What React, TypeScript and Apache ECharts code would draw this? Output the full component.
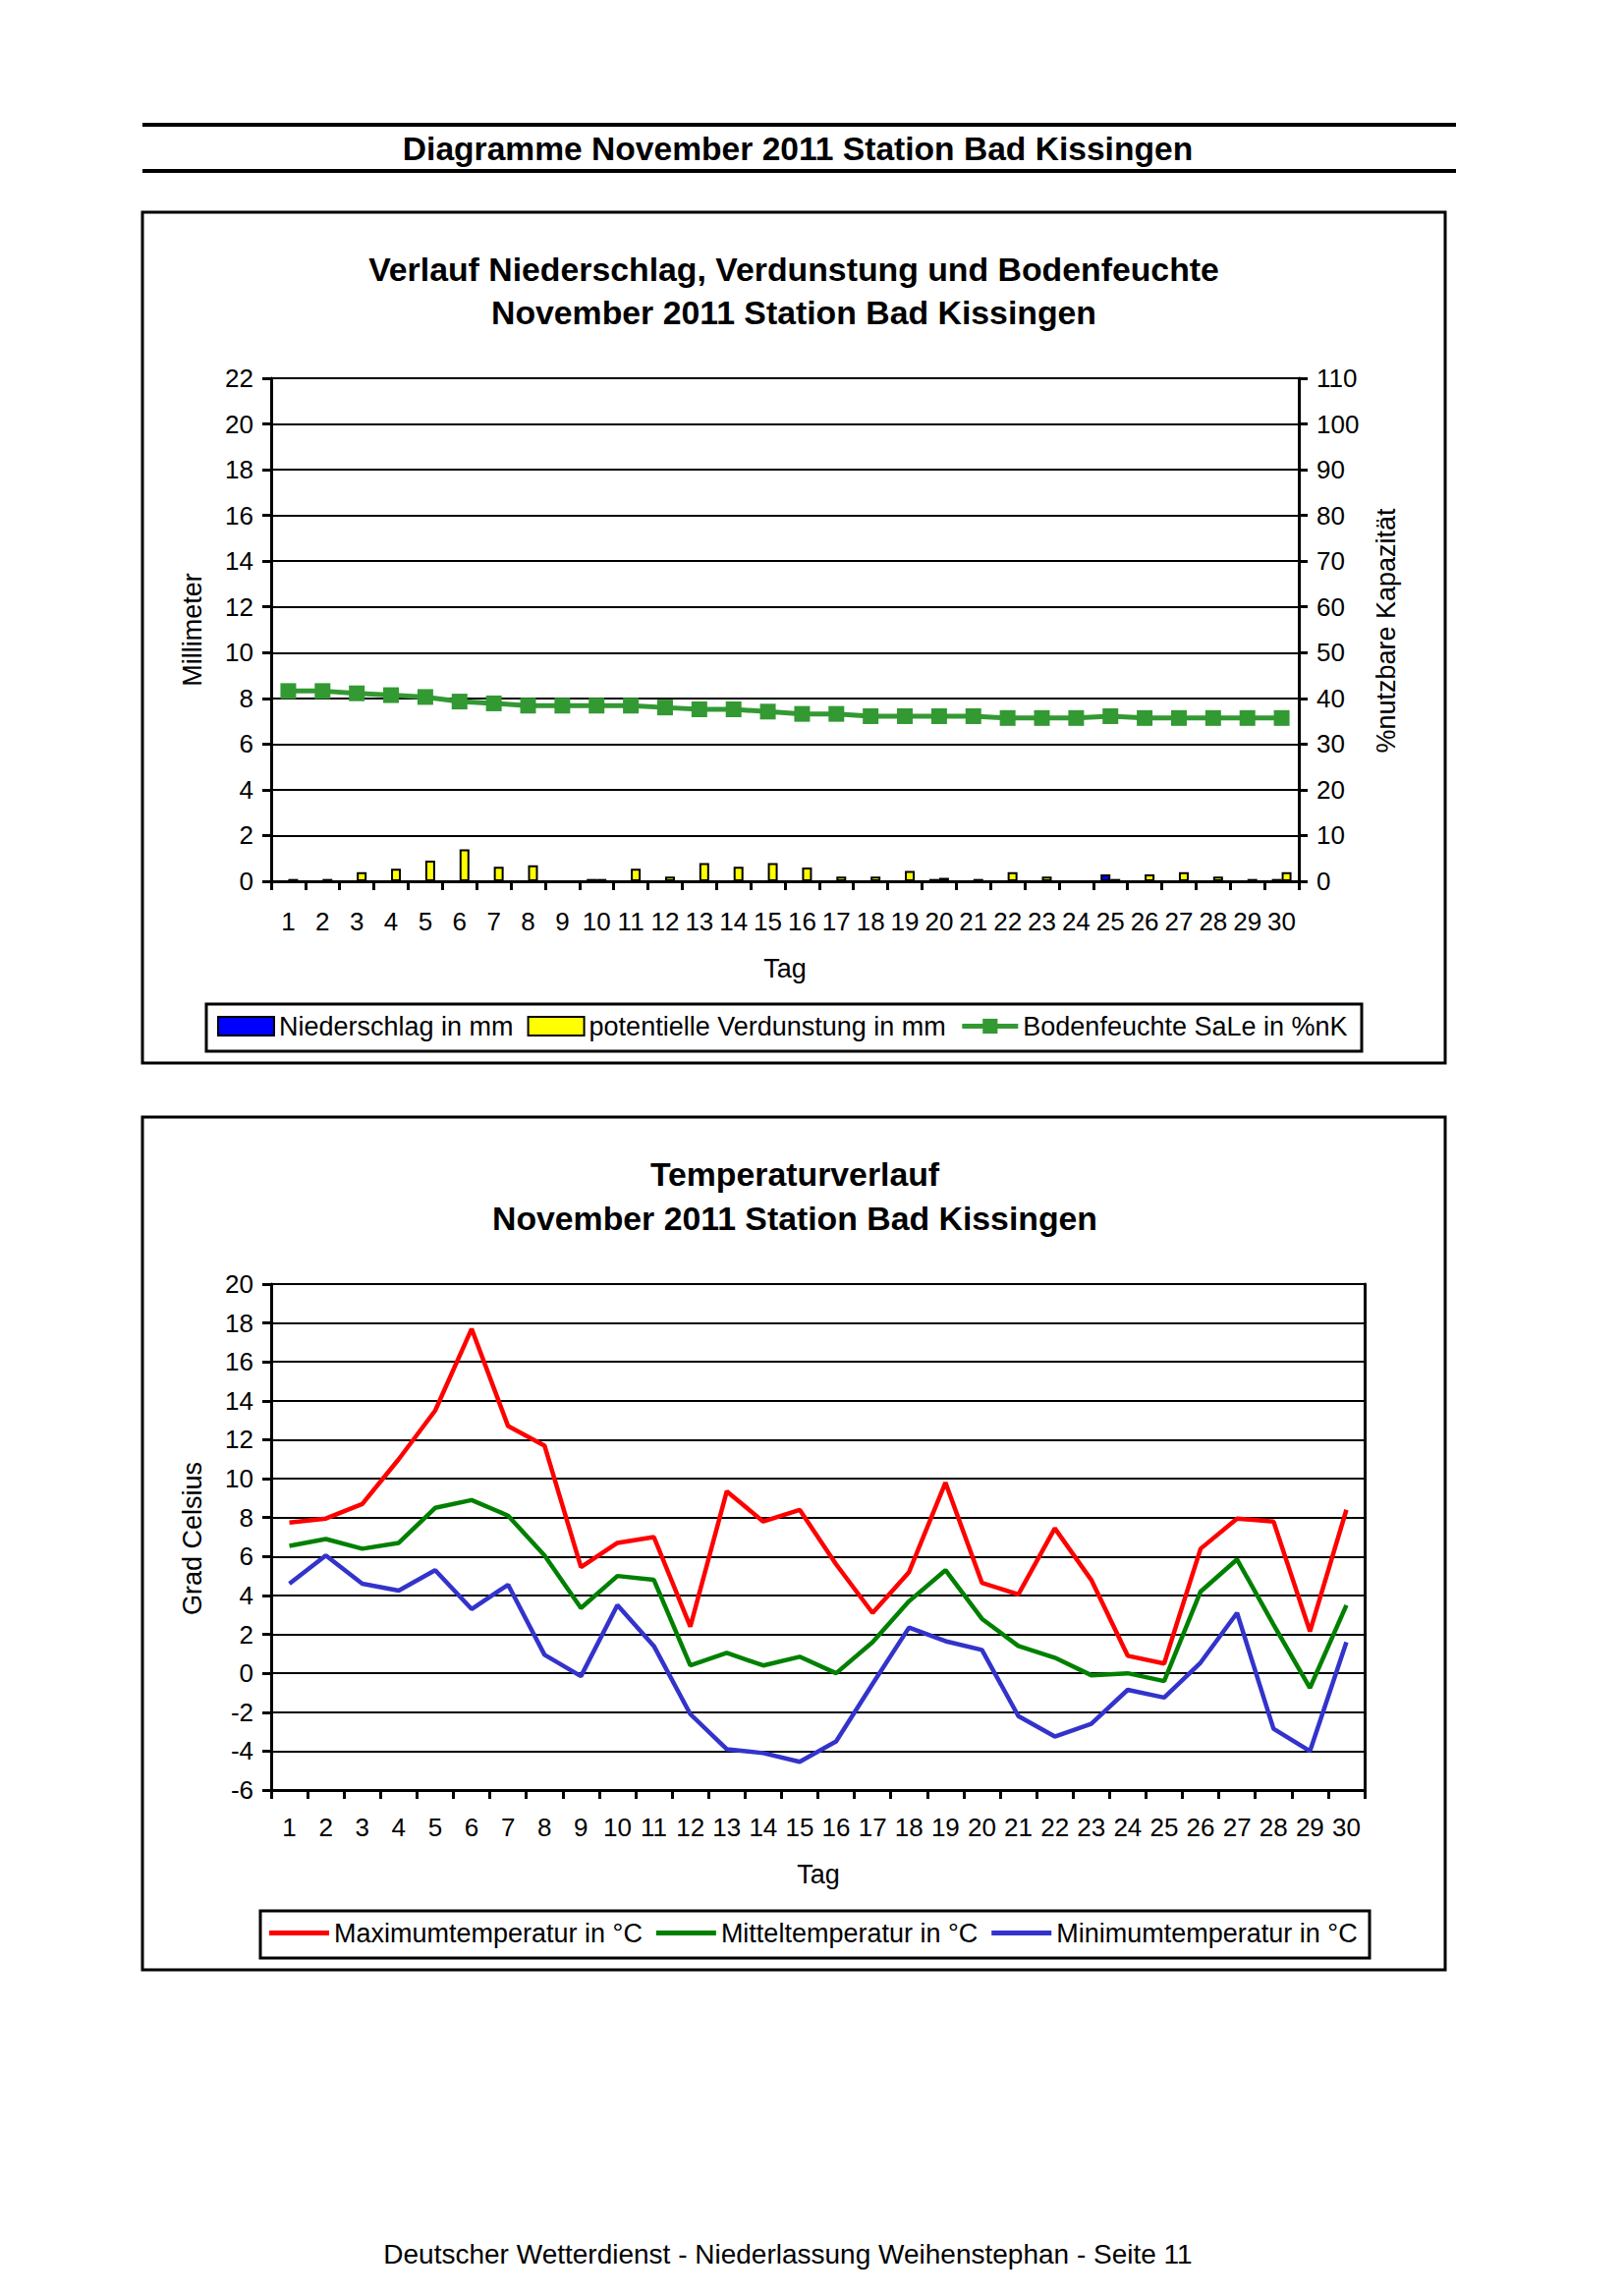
import React, { useEffect, useRef } from "react";
import * as echarts from "echarts";

const days = ["1","2","3","4","5","6","7","8","9","10","11","12","13","14","15","16","17","18","19","20","21","22","23","24","25","26","27","28","29","30"];

// Chart 1: precipitation (mm), potential evaporation (mm), soil moisture (%nK)
const niederschlag = [0,0,0,0,0,0,0,0,0,0.1,0,0,0,0,0,0,0,0,0,0.1,0,0,0,0,0.3,0,0,0,0,0.1];
const verdunstung = [0.1,0.1,0.4,0.55,0.9,1.4,0.63,0.7,0,0.1,0.55,0.2,0.8,0.63,0.8,0.6,0.2,0.2,0.45,0.15,0.1,0.4,0.2,0,0.1,0.3,0.4,0.2,0.1,0.4];
const bodenfeuchte = [41.6,41.6,41.1,40.7,40.3,39.3,38.9,38.4,38.4,38.4,38.4,38.0,37.6,37.6,37.1,36.6,36.6,36.1,36.1,36.1,36.1,35.7,35.7,35.7,36.1,35.7,35.7,35.7,35.7,35.7];

// Chart 2: temperatures (°C)
const tMax = [7.75,7.95,8.7,11.0,13.5,17.7,12.7,11.7,5.45,6.7,7.0,2.4,9.35,7.8,8.4,5.6,3.1,5.2,9.8,4.65,4.05,7.45,4.8,0.9,0.5,6.4,7.95,7.8,2.15,8.4];
const tMittel = [6.55,6.9,6.4,6.7,8.5,8.9,8.1,6.05,3.35,5.0,4.8,0.4,1.05,0.4,0.85,0.0,1.6,3.7,5.3,2.8,1.4,0.8,-0.1,0.0,-0.4,4.2,5.85,2.5,-0.75,3.5];
const tMin = [4.6,6.05,4.6,4.25,5.3,3.3,4.55,0.95,-0.15,3.5,1.4,-2.1,-3.9,-4.1,-4.55,-3.5,-0.55,2.35,1.65,1.2,-2.2,-3.25,-2.6,-0.85,-1.25,0.55,3.1,-2.85,-4.0,1.6];

const FONT = '"Liberation Sans", Arial, Helvetica, sans-serif';
const TICK = 26;
const BLACK = "#000000";

function xAxisCfg(gridIndex: number, margin: number) {
  return {
    type: "category",
    gridIndex,
    data: days,
    boundaryGap: true,
    axisLine: { show: true, onZero: false, lineStyle: { color: BLACK, width: 3 } },
    axisTick: { show: true, interval: 0, inside: false, length: 9, lineStyle: { color: BLACK, width: 3 } },
    axisLabel: { interval: 0, color: BLACK, fontSize: TICK, fontFamily: FONT, margin },
    splitLine: { show: false },
  };
}

function yAxisCfg(gridIndex: number, min: number, max: number, interval: number, position: string, opts: any) {
  return {
    type: "value",
    gridIndex,
    min,
    max,
    interval,
    position,
    axisLine: { show: true, onZero: false, lineStyle: { color: BLACK, width: 3 } },
    axisTick: { show: opts.ticks, inside: false, length: 9, lineStyle: { color: BLACK, width: 3 } },
    axisLabel: { show: opts.labels, color: BLACK, fontSize: TICK, fontFamily: FONT, margin: 18 },
    splitLine: { show: opts.split, lineStyle: { color: BLACK, width: 2 } },
  };
}

function txt(x: number, y: number, text: string, size: number, bold = false, rotation = 0) {
  return {
    type: "text",
    x,
    y,
    rotation,
    z: 10,
    style: {
      text,
      fill: BLACK,
      fontSize: size,
      fontWeight: bold ? "bold" : "normal",
      fontFamily: FONT,
      textAlign: "center",
      textVerticalAlign: "middle",
    },
  };
}

function rect(x: number, y: number, w: number, h: number, lw: number) {
  return {
    type: "rect",
    z: 0,
    shape: { x, y, width: w, height: h },
    style: { fill: "none", stroke: BLACK, lineWidth: lw },
  };
}

const nz = (a: number[]) => a.map((v) => (v === 0 ? null : v));

export default function App() {
  const ref = useRef<HTMLDivElement>(null);
  useEffect(() => {
    if (!ref.current) return;
    const chart = echarts.init(ref.current, null, { renderer: "svg" });
    const option: any = {
      animation: false,
      backgroundColor: "#ffffff",
      textStyle: { fontFamily: FONT },
      grid: [
        { left: 276, top: 385, width: 1046, height: 512 },
        { left: 276, top: 1307, width: 1113, height: 515 },
      ],
      xAxis: [xAxisCfg(0, 28), xAxisCfg(1, 25)],
      yAxis: [
        yAxisCfg(0, 0, 22, 2, "left", { ticks: true, labels: true, split: true }),
        yAxisCfg(0, 0, 110, 10, "right", { ticks: true, labels: true, split: false }),
        yAxisCfg(1, -6, 20, 2, "left", { ticks: true, labels: true, split: true }),
        yAxisCfg(1, -6, 20, 2, "right", { ticks: false, labels: false, split: false }),
      ],
      legend: [
        {
          left: 221,
          top: 1031,
          padding: 0,
          itemGap: 14,
          itemWidth: 57,
          itemHeight: 19,
          textStyle: { color: BLACK, fontSize: 27, fontFamily: FONT },
          data: [
            { name: "Niederschlag in mm", icon: "rect" },
            { name: "potentielle Verdunstung in mm", icon: "rect" },
            { name: "Bodenfeuchte SaLe in %nK", lineStyle: { width: 5 } },
          ],
        },
        {
          left: 274,
          top: 1954,
          padding: 0,
          itemGap: 14,
          itemWidth: 61,
          itemHeight: 5,
          textStyle: { color: BLACK, fontSize: 27, fontFamily: FONT },
          itemStyle: { borderWidth: 0 },
          data: [
            { name: "Maximumtemperatur in °C", icon: "rect" },
            { name: "Mitteltemperatur in °C", icon: "rect" },
            { name: "Minimumtemperatur in °C", icon: "rect" },
          ],
        },
      ],
      series: [
        {
          name: "Niederschlag in mm",
          type: "bar",
          xAxisIndex: 0,
          yAxisIndex: 0,
          data: nz(niederschlag),
          barWidth: 10,
          barGap: "0%",
          itemStyle: { color: "#0000FF", borderColor: BLACK, borderWidth: 2 },
        },
        {
          name: "potentielle Verdunstung in mm",
          type: "bar",
          xAxisIndex: 0,
          yAxisIndex: 0,
          data: nz(verdunstung),
          barWidth: 10,
          barGap: "0%",
          itemStyle: { color: "#FFFF00", borderColor: BLACK, borderWidth: 2 },
        },
        {
          name: "Bodenfeuchte SaLe in %nK",
          type: "line",
          xAxisIndex: 0,
          yAxisIndex: 1,
          data: bodenfeuchte,
          symbol: "rect",
          symbolSize: 16,
          showSymbol: true,
          lineStyle: { color: "#339933", width: 5 },
          itemStyle: { color: "#339933" },
        },
        {
          name: "Maximumtemperatur in °C",
          type: "line",
          xAxisIndex: 1,
          yAxisIndex: 2,
          data: tMax,
          symbol: "none",
          lineStyle: { color: "#FF0000", width: 4.5 },
          itemStyle: { color: "#FF0000" },
        },
        {
          name: "Mitteltemperatur in °C",
          type: "line",
          xAxisIndex: 1,
          yAxisIndex: 2,
          data: tMittel,
          symbol: "none",
          lineStyle: { color: "#008000", width: 4.5 },
          itemStyle: { color: "#008000" },
        },
        {
          name: "Minimumtemperatur in °C",
          type: "line",
          xAxisIndex: 1,
          yAxisIndex: 2,
          data: tMin,
          symbol: "none",
          lineStyle: { color: "#3333CC", width: 4.5 },
          itemStyle: { color: "#3333CC" },
        },
      ],
      graphic: [
        { type: "line", shape: { x1: 145, y1: 127, x2: 1482, y2: 127 }, style: { stroke: BLACK, lineWidth: 4 } },
        { type: "line", shape: { x1: 145, y1: 174, x2: 1482, y2: 174 }, style: { stroke: BLACK, lineWidth: 4 } },
        txt(812, 151, "Diagramme November 2011 Station Bad Kissingen", 33.6, true),
        rect(145, 216, 1326, 866, 3),
        rect(145, 1137, 1326, 868, 3),
        txt(808, 274, "Verlauf Niederschlag, Verdunstung und Bodenfeuchte", 33.8, true),
        txt(808, 318, "November 2011 Station Bad Kissingen", 33.8, true),
        txt(196, 641, "Millimeter", 27, false, Math.PI / 2),
        txt(1411, 642, "%nutzbare Kapazität", 27, false, Math.PI / 2),
        txt(799, 986, "Tag", 27),
        rect(210, 1022, 1176, 48, 3),
        txt(809, 1195, "Temperaturverlauf", 33.8, true),
        txt(809, 1240, "November 2011 Station Bad Kissingen", 33.8, true),
        txt(196, 1566, "Grad Celsius", 27, false, Math.PI / 2),
        txt(833, 1908, "Tag", 27),
        rect(265, 1945, 1129, 48, 3),
        txt(802, 2294, "Deutscher Wetterdienst - Niederlassung Weihenstephan - Seite 11", 28),
      ],
    };
    chart.setOption(option);
    return () => chart.dispose();
  }, []);
  return (
    <div
      ref={ref}
      style={{ position: "absolute", left: 0, top: 0, width: 1653, height: 2337, background: "#fff" }}
    />
  );
}
